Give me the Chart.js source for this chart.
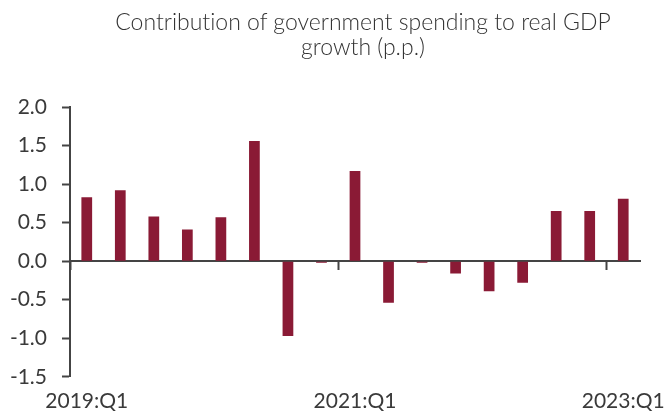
<!DOCTYPE html>
<html>
<head>
<meta charset="utf-8">
<script src="https://cdn.jsdelivr.net/npm/chart.js@4/dist/chart.umd.min.js"></script>
<style>
  body { margin: 0; background: #fff; }
  #wrap { position: relative; width: 668px; height: 415px; }
  #title {
    position: absolute; left: 100px; top: 9px; width: 526px;
    text-align: center; white-space: nowrap;
    font: 300 23px Lato, sans-serif; line-height: 25px; color: #333;
    font-variant-ligatures: none;
  }
</style>
</head>
<body>
<div id="wrap">
  <div id="title">Contribution of government spending to real GDP<br>growth (p.p.)</div>
  <canvas id="govChart"></canvas>
</div>
<script>
// quarters 2019:Q1 .. 2023:Q1
const quarters = [
  '2019:Q1', '2019:Q2', '2019:Q3', '2019:Q4',
  '2020:Q1', '2020:Q2', '2020:Q3', '2020:Q4',
  '2021:Q1', '2021:Q2', '2021:Q3', '2021:Q4',
  '2022:Q1', '2022:Q2', '2022:Q3', '2022:Q4',
  '2023:Q1'
];
// contribution in percentage points
const govContribution = [
  0.83, 0.92, 0.58, 0.41,
  0.57, 1.56, -0.97, -0.02,
  1.17, -0.54, -0.02, -0.16,
  -0.39, -0.28, 0.65, 0.65,
  0.81
];
const yTicks = [-1.5, -1.0, -0.5, 0.0, 0.5, 1.0, 1.5, 2.0];

const AXIS_COLOR = '#444';
const TEXT_COLOR = '#3a3a3a';
const BAR_COLOR = '#8a1a35';
const LABEL_EVERY = 8;
const TICK_FONT = { family: 'Lato', size: 21, weight: 400 };

// keep the long end labels from squeezing the plot
const noLabelPadding = (scale) => { scale.paddingLeft = 0; scale.paddingRight = 0; };

const ctx = document.getElementById('govChart').getContext('2d');
const chart = new Chart(ctx, {
  type: 'bar',
  data: {
    labels: quarters,
    datasets: [{
      data: govContribution,
      backgroundColor: BAR_COLOR,
      borderWidth: 0,
      barPercentage: 0.32,
      categoryPercentage: 1.0,
      xAxisID: 'x'
    }]
  },
  options: {
    responsive: true,
    maintainAspectRatio: false,
    animation: false,
    layout: { padding: { top: 107, right: 28, bottom: -11, left: 0 } },
    plugins: {
      legend: { display: false },
      tooltip: { enabled: false }
    },
    scales: {
      // axis line sitting on zero, with a tick every 8 quarters
      x: {
        type: 'category',
        position: { y: 0 },
        offset: true,
        afterFit: noLabelPadding,
        border: { display: true, color: AXIS_COLOR, width: 2 },
        grid: {
          offset: true,
          drawOnChartArea: false,
          drawTicks: true,
          tickLength: 8,
          tickWidth: 2,
          tickColor: (c) => (c.index % LABEL_EVERY === 0 ? AXIS_COLOR : 'rgba(0,0,0,0)')
        },
        ticks: { autoSkip: false, maxRotation: 0, callback: () => '' }
      },
      // labels along the bottom
      x2: {
        type: 'category',
        position: 'bottom',
        offset: true,
        afterFit: noLabelPadding,
        border: { display: false },
        grid: { display: false, drawTicks: false },
        ticks: {
          autoSkip: false,
          maxRotation: 0,
          padding: 12,
          color: TEXT_COLOR,
          font: TICK_FONT,
          callback: function (val, i) {
            return i % LABEL_EVERY === 0 ? this.getLabelForValue(val) : '';
          }
        }
      },
      y: {
        min: yTicks[0],
        max: yTicks[yTicks.length - 1],
        afterBuildTicks: (scale) => { scale.ticks = yTicks.map(v => ({ value: v })); },
        afterFit: (scale) => { scale.width = 70; },
        border: { display: true, color: AXIS_COLOR, width: 2 },
        grid: {
          drawOnChartArea: false,
          drawTicks: true,
          tickLength: 8,
          tickWidth: 2,
          tickColor: AXIS_COLOR
        },
        ticks: {
          padding: 15,
          color: TEXT_COLOR,
          font: TICK_FONT,
          callback: (v) => v.toFixed(1)
        }
      }
    }
  }
});
</script>
</body>
</html>
